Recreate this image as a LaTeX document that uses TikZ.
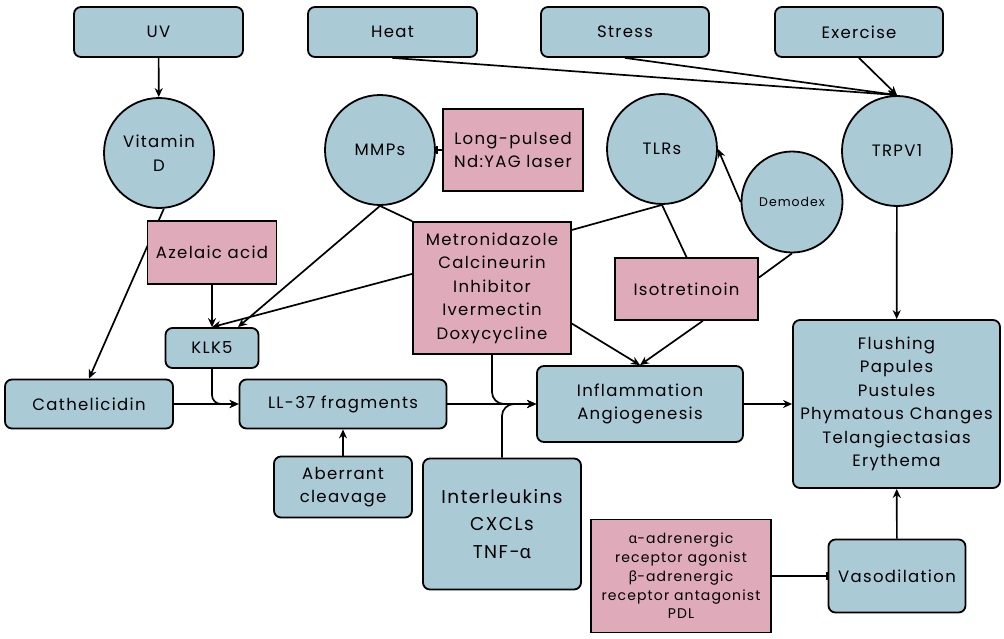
\documentclass[tikz,border=0pt]{standalone}
\usepackage{fontspec}
\setmainfont[LetterSpace=8]{Poppins}
\newfontfamily\grkfont{Noto Sans}
\usetikzlibrary{arrows.meta,backgrounds}
\definecolor{cNode}{HTML}{AACAD6}
\definecolor{cDrug}{HTML}{DFABBB}
\newcommand{\gralpha}{{\grkfont α}}
\newcommand{\grbeta}{{\grkfont β}}
\tikzset{
  boxbase/.style={draw=black, line width=1.8pt, align=center, inner sep=0pt,
                  font=\fontsize{16.5}{23.5}\selectfont},
  factor/.style={boxbase, fill=cNode, rounded corners=7pt},
  drug/.style={boxbase, fill=cDrug},
  hub/.style={boxbase, fill=cNode, circle, minimum size=110pt},
  arr/.style={-{Stealth[length=9pt,width=8pt]}, line width=1.7pt},
  link/.style={line width=1.7pt},
  inhib/.style={-{Bar[width=8pt]}, line width=1.7pt},
}

\begin{document}
\begin{tikzpicture}[x=1pt, y=-1pt]
\useasboundingbox (0,0) rectangle (1004,638);

% ========== TRIGGERS ==========
\node[factor, minimum width=169pt, minimum height=50pt] (uv) at (158.5,32) {UV};
\node[factor, minimum width=169pt, minimum height=50pt] (heat) at (392.5,32) {Heat};
\node[factor, minimum width=168pt, minimum height=50pt] (stress) at (625,32) {Stress};
\node[factor, minimum width=168pt, minimum height=50pt] (exer) at (859,32) {Exercise};

% ========== MEDIATORS ==========
\node[hub] (vitd) at (159,153) {Vitamin\\D};
\node[hub] (mmp) at (380,150) {MMPs};
\node[drug, minimum width=140pt, minimum height=82pt] (laser) at (513,150)
  {Long-pulsed\\Nd:YAG laser};
\node[hub] (tlr) at (662,149) {TLRs};
\node[hub, minimum size=101pt, font=\fontsize{12.5}{15}\selectfont] (dem) at (792,202) {Demodex};
\node[hub] (trp) at (897,151) {TRPV1};

\node[drug, minimum width=129pt, minimum height=63pt] (aze) at (212,252.5) {Azelaic acid};
\node[factor, minimum width=93pt, minimum height=40pt] (klk) at (212,348) {KLK5};
\node[drug, minimum width=158pt, minimum height=132pt] (metro) at (492,288)
  {Metronidazole\\Calcineurin\\Inhibitor\\Ivermectin\\Doxycycline};
\node[drug, minimum width=143pt, minimum height=62pt] (iso) at (686.5,289) {Isotretinoin};

% ========== PATHWAY ==========
\node[factor, minimum width=168pt, minimum height=49pt] (cath) at (89,404) {Cathelicidin};
\node[factor, minimum width=207pt, minimum height=49pt] (ll) at (343,404) {LL-37 fragments};
\node[factor, minimum width=138pt, minimum height=61pt] (ab) at (343,487) {Aberrant\\cleavage};
\node[factor, minimum width=206pt, minimum height=76pt] (infl) at (640,404)
  {Inflammation\\Angiogenesis};
\node[factor, minimum width=158pt, minimum height=131pt, font=\fontsize{18.5}{27.5}\selectfont]
  (il) at (502,524) {Interleukins\\CXCLs\\TNF-\gralpha};
\node[factor, minimum width=207pt, minimum height=168pt] (flush) at (896.5,404)
  {Flushing\\Papules\\Pustules\\Phymatous Changes\\Telangiectasias\\Erythema};
\node[drug, minimum width=180pt, minimum height=113pt, font=\fontsize{14}{18.8}\selectfont]
  (adr) at (681,576)
  {\gralpha-adrenergic\\receptor agonist\\\grbeta-adrenergic\\receptor antagonist\\PDL};
\node[factor, minimum width=137pt, minimum height=73pt] (vaso) at (897,576) {Vasodilation};

% ========== CONNECTORS ==========
\begin{scope}[on background layer]
  \draw[arr] (uv) -- (vitd);
  \draw[arr] (heat.south) -- (trp.north);
  \draw[arr] (stress.south) -- (trp.north);
  \draw[arr] (exer.south) -- (trp.north);
  \draw[inhib] (laser) -- (mmp);
  \draw[arr] (vitd.275) -- (cath.north);
  \draw[arr] (aze) -- (klk);
  \draw[arr] (mmp.south) -- ([xshift=26pt]klk.north);
  \draw[link] (mmp.south) -- (metro.north west);
  \draw[arr] (metro.170) -- (klk.north);
  \draw[link] (metro.36) -- (tlr.south);
  \draw[link] (tlr.south) -- (iso.north);
  \draw[arr] (dem.west) -- (tlr.east);
  \draw[link] (dem.south) -- (iso.9);
  \draw[arr] (metro.336) -- (infl.north);
  \draw[arr] (iso.297) -- (infl.north);
  \draw[arr] (trp) -- (flush);
  \draw[arr] (cath) -- (ll);
  \draw[arr, rounded corners=9pt] (klk.south) |- (ll.west);
  \draw[arr] (ab) -- (ll);
  \draw[arr] (ll) -- (infl);
  \draw[arr, rounded corners=12pt] (metro.south) |- (infl.west);
  \draw[arr, rounded corners=12pt] (il.north) |- (infl.west);
  \draw[arr] (infl) -- (flush);
  \draw[inhib] (adr) -- (vaso);
  \draw[arr] (vaso) -- (flush);
\end{scope}

\end{tikzpicture}
\end{document}
